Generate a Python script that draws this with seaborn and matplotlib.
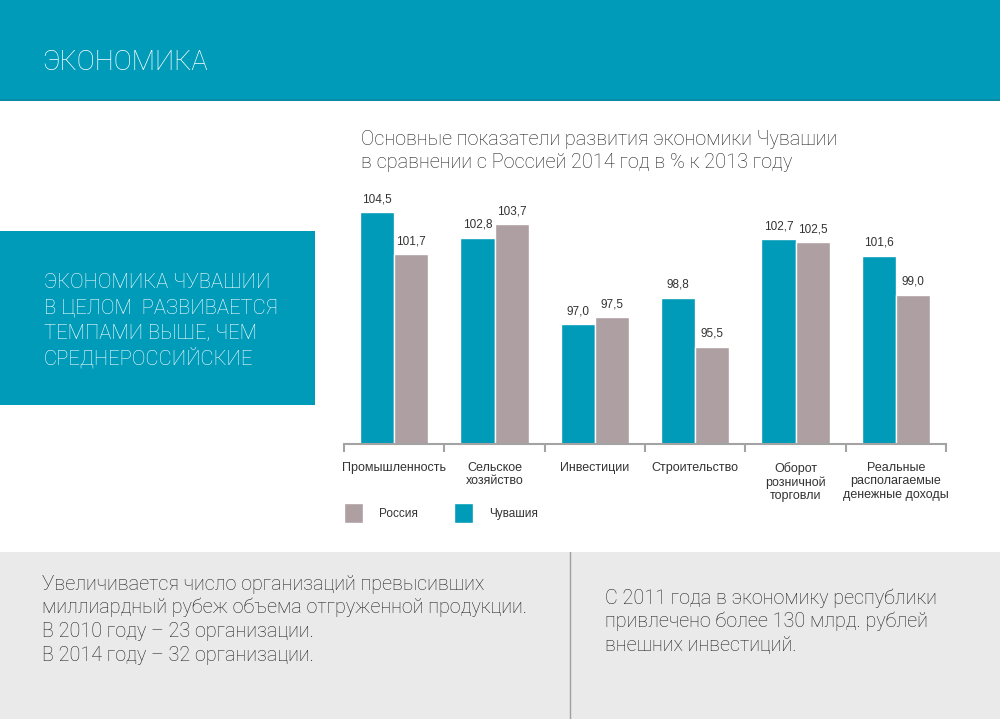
import matplotlib
matplotlib.use("Agg")
import matplotlib.pyplot as plt
import seaborn as sns
import pandas as pd
from matplotlib.patches import Rectangle, Patch
from matplotlib.lines import Line2D

# ---- data ----
categories = ["Промышленность", "Сельское\nхозяйство", "Инвестиции", "Строительство",
              "Оборот\nрозничной\nторговли", "Реальные\nрасполагаемые\nденежные доходы"]
chuvashia = [104.5, 102.8, 97.0, 98.8, 102.7, 101.6]
russia = [101.7, 103.7, 97.5, 95.5, 102.5, 99.0]
series = ["Чувашия", "Россия"]

page_title = "ЭКОНОМИКА"
chart_title = "Основные показатели развития экономики Чувашии\nв сравнении с Россией 2014 год в % к 2013 году"
side_lines = ["ЭКОНОМИКА ЧУВАШИИ", "В ЦЕЛОМ  РАЗВИВАЕТСЯ", "ТЕМПАМИ ВЫШЕ, ЧЕМ", "СРЕДНЕРОССИЙСКИЕ"]
bottom_left = ["Увеличивается число организаций превысивших",
               "миллиардный рубеж объема отгруженной продукции.",
               "В 2010 году – 23 организации.",
               "В 2014 году – 32 организации."]
bottom_right = ["С 2011 года в экономику республики",
                "привлечено более 130 млрд. рублей",
                "внешних инвестиций."]

TEAL = "#009BB9"
MAUVE = "#AD9FA2"
GREY_BG = "#EAEAEA"
TXT = "#333333"
TXT_DARK = "#222222"
AXC = "#A3A3A3"

sns.set_theme(style="white")
plt.rcParams['font.family'] = ['Liberation Sans', 'DejaVu Sans']
LIGHT = ['Roboto', 'Liberation Sans', 'DejaVu Sans']

W, H = 1000, 719
fig = plt.figure(figsize=(W / 100, H / 100), dpi=100)
fig.patch.set_facecolor("white")

def fy(px):
    return 1 - px / H

def fx(px):
    return px / W

# background blocks
fig.patches.append(Rectangle((0, fy(100)), 1, 100 / H, transform=fig.transFigure,
                             facecolor=TEAL, edgecolor="none", zorder=0))
fig.patches.append(Rectangle((0, fy(101)), 1, 2 / H, transform=fig.transFigure,
                             facecolor="#0A8AA5", edgecolor="none", zorder=0))
fig.patches.append(Rectangle((0, fy(405)), fx(315), (405 - 231) / H, transform=fig.transFigure,
                             facecolor=TEAL, edgecolor="none", zorder=0))
fig.patches.append(Rectangle((0, 0), 1, (H - 552) / H, transform=fig.transFigure,
                             facecolor=GREY_BG, edgecolor="none", zorder=0))
fig.lines.append(Line2D([fx(570), fx(570)], [0, fy(552)], transform=fig.transFigure,
                        color="#A0A0A0", lw=1))

# texts
fig.text(fx(42), fy(62), page_title, color="white", fontsize=19.5, va="center", ha="left",
         family=LIGHT, fontweight="light")
for i, line in enumerate(side_lines):
    fig.text(fx(44), fy(283 + 25 * i), line, color="white", fontsize=14.6, va="center", ha="left",
             family=LIGHT, fontweight="light")
for i, line in enumerate(bottom_left):
    fig.text(fx(42), fy(584 + 23.7 * i), line, color=TXT_DARK, fontsize=14.25, va="center", ha="left",
             family=LIGHT, fontweight="light")
for i, line in enumerate(bottom_right):
    fig.text(fx(605), fy(598 + 23.5 * i), line, color=TXT_DARK, fontsize=14.25, va="center", ha="left",
             family=LIGHT, fontweight="light")
fig.text(fx(361), fy(151), chart_title, color=TXT_DARK, fontsize=14.3, va="center", ha="left",
         linespacing=1.3, family=LIGHT, fontweight="light")

# ---- chart ----
ax = fig.add_axes([fx(344), fy(444), fx(946) - fx(344), (444 - 190) / H])
df = pd.DataFrame({
    "cat": categories * 2,
    "val": chuvashia + russia,
    "series": [series[0]] * len(categories) + [series[1]] * len(categories),
})
sns.barplot(data=df, x="cat", y="val", hue="series", hue_order=series,
            palette=[TEAL, MAUVE], width=0.68, saturation=1, ax=ax, legend=False,
            errorbar=None)
ax.set_ylim(89.0, 106.0)
ax.set_xlim(-0.5, len(categories) - 0.5)

for cont in ax.containers:
    labels = [f"{b.get_height():.1f}".replace(".", ",") for b in cont]
    ax.bar_label(cont, labels=labels, padding=5, fontsize=8.5, color=TXT)

for s in ["top", "right", "left"]:
    ax.spines[s].set_visible(False)
ax.spines["bottom"].set_color(AXC)
ax.spines["bottom"].set_linewidth(1.5)
ax.set_yticks([])
ax.set_xticks([i - 0.5 for i in range(len(categories) + 1)])
ax.set_xticklabels([])
ax.tick_params(axis="x", which="major", direction="out", length=6, width=1.5, color=AXC, bottom=True)
ax.set_xticks(range(len(categories)), minor=True)
ax.set_xticklabels(categories, minor=True, fontsize=9, color=TXT, linespacing=1.15)
ax.tick_params(axis="x", which="minor", length=0, pad=13)
ax.set_xlabel("")
ax.set_ylabel("")
ax.patch.set_alpha(0)

handles = [Patch(facecolor=MAUVE, label="Россия"), Patch(facecolor=TEAL, label="Чувашия")]
fig.legend(handles=handles, loc="upper left", bbox_to_anchor=(fx(344), fy(503)), ncol=2,
           frameon=False, fontsize=8.5, handlelength=1.6, handleheight=2.2,
           handletextpad=1.4, columnspacing=3.0, borderpad=0, borderaxespad=0,
           labelcolor=TXT)

fig.savefig("out.png", dpi=100, facecolor="white")
